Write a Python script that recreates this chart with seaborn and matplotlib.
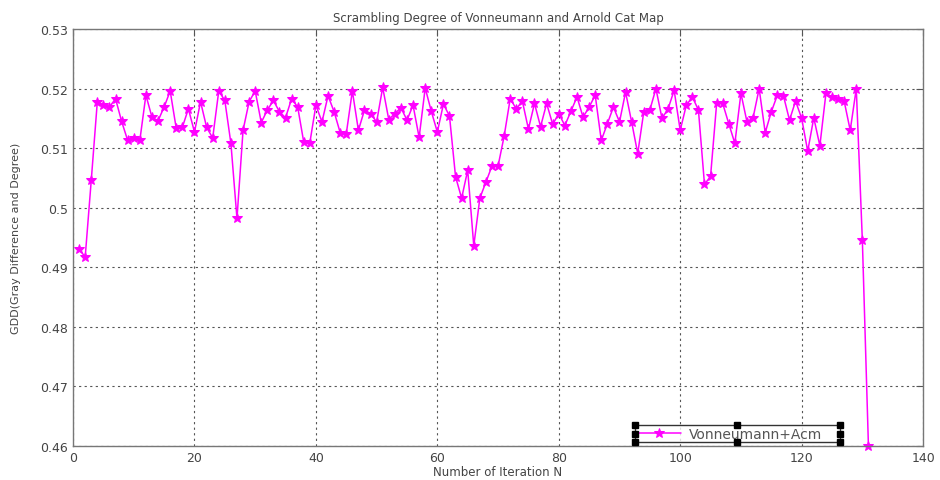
import numpy as np
import pandas as pd
import matplotlib
matplotlib.use("Agg")
import matplotlib.pyplot as plt
import seaborn as sns
from matplotlib.ticker import FuncFormatter

iterations = list(range(1, 132))
gdd = [
    0.4931, 0.4917, 0.5046, 0.5178, 0.5172, 0.5169, 0.5183, 0.5145, 0.5113, 0.5117,
    0.5113, 0.5189, 0.5152, 0.5146, 0.5169, 0.5196, 0.5133, 0.5135, 0.5166, 0.5127,
    0.5178, 0.5135, 0.5117, 0.5196, 0.5180, 0.5108, 0.4982, 0.5130, 0.5178, 0.5196,
    0.5143, 0.5164, 0.5180, 0.5161, 0.5151, 0.5183, 0.5169, 0.5110, 0.5109, 0.5172,
    0.5144, 0.5188, 0.5161, 0.5126, 0.5124, 0.5196, 0.5130, 0.5164, 0.5158, 0.5144,
    0.5202, 0.5148, 0.5158, 0.5168, 0.5147, 0.5172, 0.5118, 0.5201, 0.5162, 0.5127,
    0.5174, 0.5154, 0.5052, 0.5016, 0.5063, 0.4936, 0.5016, 0.5043, 0.5070, 0.5070,
    0.5120, 0.5183, 0.5166, 0.5179, 0.5132, 0.5175, 0.5136, 0.5175, 0.5140, 0.5158,
    0.5138, 0.5162, 0.5186, 0.5152, 0.5169, 0.5189, 0.5113, 0.5141, 0.5169, 0.5144,
    0.5194, 0.5144, 0.5091, 0.5161, 0.5164, 0.5200, 0.5150, 0.5166, 0.5197, 0.5130,
    0.5172, 0.5186, 0.5164, 0.5039, 0.5053, 0.5175, 0.5175, 0.5141, 0.5108, 0.5192,
    0.5144, 0.5151, 0.5200, 0.5126, 0.5161, 0.5189, 0.5188, 0.5147, 0.5179, 0.5150,
    0.5095, 0.5151, 0.5104, 0.5192, 0.5186, 0.5182, 0.5179, 0.5130, 0.5200, 0.4945,
    0.4600,
]
series_name = "Vonneumann+Acm"
x_ticks = [0, 20, 40, 60, 80, 100, 120, 140]
y_ticks = [0.46, 0.47, 0.48, 0.49, 0.50, 0.51, 0.52, 0.53]

df = pd.DataFrame({"N": iterations, "GDD": gdd, "series": series_name})

sns.set_style("white")
plt.rcParams["font.family"] = ["DejaVu Sans"]

fig = plt.figure(figsize=(9.4, 4.81), dpi=100)
ax = fig.add_axes([0.0777, 0.0707, 0.9043, 0.8669])

sns.lineplot(data=df, x="N", y="GDD", hue="series", palette=["#ff00ff"],
             marker="*", markersize=7.5, markeredgecolor="#ff00ff",
             linewidth=1.1, ax=ax, clip_on=False)

ax.set_xlim(0, 140)
ax.set_ylim(0.46, 0.53)
ax.set_xticks(x_ticks)
ax.set_yticks(y_ticks)
ax.yaxis.set_major_formatter(FuncFormatter(lambda v, p: f"{v:g}"))
ax.tick_params(direction="in", length=5, labelsize=9, colors="#555555",
               top=True, right=True, labelcolor="#444444")
for s in ax.spines.values():
    s.set_color("#777777")
    s.set_linewidth(1.0)
ax.grid(True, linestyle=(0, (2, 3)), color="#555555", linewidth=0.8)

ax.set_title("Scrambling Degree of Vonneumann and Arnold Cat Map",
             fontsize=8.5, color="#444444", pad=6)
ax.set_xlabel("Number of Iteration N", fontsize=8.5, color="#444444", labelpad=1)
ax.set_ylabel("GDD(Gray Difference and Degree)", fontsize=8, color="#444444", labelpad=14)

leg = ax.legend(loc="lower left", bbox_to_anchor=(0.661, 0.0096, 0.241, 0.048),
                mode="expand", borderaxespad=0, frameon=True,
                fontsize=10, handlelength=3.2, borderpad=0.1, fancybox=False,
                handletextpad=0.6)
leg.get_frame().set_edgecolor("black")
leg.get_frame().set_linewidth(1.0)
for t in leg.get_texts():
    t.set_color("#555555")

# selection handles on the legend frame (as in the source figure)
fig.canvas.draw()
bb = leg.get_window_extent().transformed(fig.transFigure.inverted())
hx = [bb.x0, (bb.x0 + bb.x1) / 2, bb.x1]
hy = [bb.y0, (bb.y0 + bb.y1) / 2, bb.y1]
for xx in hx:
    for yy in hy:
        if xx == hx[1] and yy == hy[1]:
            continue
        fig.lines.append(plt.Line2D([xx], [yy], marker="s", markersize=4.5,
                                    color="black", transform=fig.transFigure))

fig.savefig("out.png", dpi=100)
